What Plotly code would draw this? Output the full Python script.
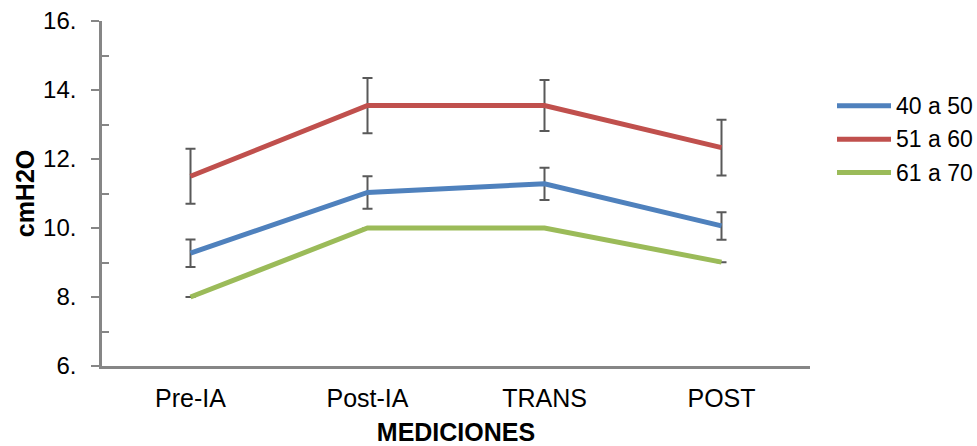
import plotly.graph_objects as go

categories = ["Pre-IA", "Post-IA", "TRANS", "POST"]
series_names = ["40 a 50", "51 a 60", "61 a 70"]
values_40_50 = [9.27, 11.03, 11.28, 10.06]
values_51_60 = [11.50, 13.55, 13.55, 12.33]
values_61_70 = [8.00, 10.00, 10.00, 9.01]
err_40_50 = [0.40, 0.47, 0.47, 0.40]
err_51_60 = [0.80, 0.80, 0.74, 0.81]
err_61_70 = [0.0, 0.0, 0.0, 0.0]
y_ticks = [6, 8, 10, 12, 14, 16]
y_ticktext = ["6.", "8.", "10.", "12.", "14.", "16."]
y_minor = [7, 9, 11, 13, 15]

colors = ["#4F81BD", "#C0504D", "#9BBB59"]
all_vals = [values_40_50, values_51_60, values_61_70]
all_errs = [err_40_50, err_51_60, err_61_70]

FONT = "Liberation Sans, Arial, sans-serif"
W, H = 977, 446
ML, MR, MT, MB = 102, 167, 21, 80

fig = go.Figure()
for name, vals, errs, col in zip(series_names, all_vals, all_errs, colors):
    fig.add_trace(go.Scatter(
        x=categories, y=vals, name=name, mode="lines",
        line=dict(color=col, width=5),
        error_y=dict(type="data", array=errs, visible=True,
                     color="#595959", thickness=2, width=5),
        showlegend=False,
    ))

# custom legend (paper coordinates from pixel positions)
pw, ph = W - ML - MR, H - MT - MB
def px2x(px):
    return (px - ML) / pw
def py2y(py):
    return (H - MB - py) / ph

legend_rows = [105.7, 139.2, 172.6]
for name, col, ly in zip(series_names, colors, legend_rows):
    fig.add_shape(type="line", xref="paper", yref="paper",
                  x0=px2x(837), x1=px2x(891), y0=py2y(ly), y1=py2y(ly),
                  line=dict(color=col, width=5))
    fig.add_annotation(xref="paper", yref="paper", x=px2x(894), y=py2y(ly),
                       text=name, showarrow=False, xanchor="left", yanchor="middle",
                       font=dict(family=FONT, size=23, color="#000000"))

axis_col = "#868686"
fig.update_layout(
    width=W, height=H,
    margin=dict(l=ML, r=MR, t=MT, b=MB, autoexpand=False),
    plot_bgcolor="white", paper_bgcolor="white",
    font=dict(family=FONT, color="#000000"),
    xaxis=dict(
        type="category", range=[-0.5, 3.5], automargin=False,
        showline=True, linecolor=axis_col, linewidth=2.5,
        showgrid=False, zeroline=False, ticks="",
        tickfont=dict(family=FONT, size=25, color="#000000"),
        ticklabelstandoff=8,
        title=dict(text="<b>MEDICIONES</b>", font=dict(family=FONT, size=25, color="#000000"), standoff=14),
    ),
    yaxis=dict(
        range=[6, 16], tickmode="array", tickvals=y_ticks, ticktext=y_ticktext,
        automargin=False,
        showline=True, linecolor=axis_col, linewidth=2.5,
        showgrid=False, zeroline=False,
        ticks="outside", ticklen=8, tickwidth=2, tickcolor=axis_col,
        tickfont=dict(family=FONT, size=24, color="#000000"),
        ticklabelstandoff=10,
        minor=dict(tickmode="array", tickvals=y_minor, ticks="inside", ticklen=7,
                   tickwidth=2, tickcolor=axis_col, showgrid=False),
        title=dict(text="<b>cmH2O</b>", font=dict(family=FONT, size=25, color="#000000"), standoff=2),
    ),
)

fig.write_html("out.html", config={"displayModeBar": False},
               post_script="document.body.style.margin='0px';")
